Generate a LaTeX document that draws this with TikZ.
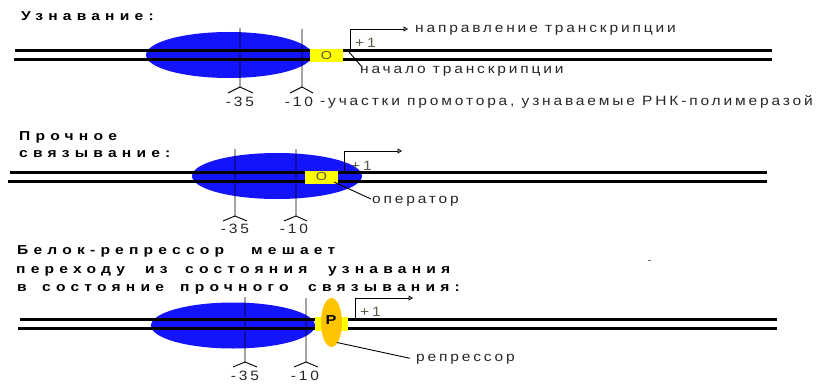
\documentclass[tikz,border=0pt]{standalone}
\usepackage{fontspec}
\setmainfont{Liberation Sans}
\newfontfamily\ttlfont[LetterSpace=40,FakeStretch=1.2]{Liberation Sans}
\newfontfamily\bodyfont[LetterSpace=21,FakeStretch=1.15]{Liberation Sans}
\newfontfamily\boxfont[FakeStretch=1.25]{Liberation Sans}
\usetikzlibrary{arrows.meta}
\definecolor{polblue}{RGB}{20,20,250}
\definecolor{opyellow}{RGB}{255,255,0}
\definecolor{reporange}{RGB}{255,196,0}
\definecolor{plusgray}{RGB}{90,90,70}
\tikzset{
  strand/.style={line width=2.8pt},
  thin/.style={line width=0.9pt},
  ttl/.style={inner sep=0pt, anchor=base west, font=\ttlfont\bfseries\fontsize{13}{16}\selectfont},
  lbl/.style={inner sep=0pt, anchor=base west, font=\bodyfont\fontsize{13.5}{16}\selectfont, text=black!85},
  num/.style={inner sep=0pt, anchor=base, font=\bodyfont\fontsize{13.5}{16}\selectfont, text=black!85},
  plus/.style={inner sep=0pt, anchor=base west, font=\bodyfont\fontsize{13.5}{16}\selectfont, text=plusgray},
  boxtext/.style={inner sep=0pt, font=\boxfont\fontsize{11.5}{13}\selectfont, text=plusgray},
  tssarrow/.style={thin, -{Triangle[open,length=4.5pt,width=5pt]}},
}
\begin{document}
\begin{tikzpicture}[x=1pt,y=-1pt]
\useasboundingbox (0,0) rectangle (834,385);

% ================= Section 1: Узнавание =================
\node[ttl] (t1) at (21,20.5) {Узнавание:};
\fill[polblue] (229,55) ellipse [x radius=83, y radius=23];
\coordinate (s1tl) at (15,50.5);  \coordinate (s1tr) at (772,50.5);
\coordinate (s1bl) at (14,59.5);  \coordinate (s1br) at (772,59.5);
\draw[strand] (s1tl) -- (s1tr);
\draw[strand] (s1bl) -- (s1br);
% -35
\coordinate (a1t) at (240,28); \coordinate (a1j) at (240,87);
\draw[thin] (a1t) -- (a1j) -- (228,93) (a1j) -- (253,93);
% -10
\coordinate (b1t) at (302,29); \coordinate (b1j) at (302,87);
\draw[thin] (b1t) -- (b1j) -- (290,93) (b1j) -- (313,93);
\node[num] (m35a) at (240,106.5) {-35};
\node[num] (m10a) at (299,106.5) {-10};
\node[lbl] (prom) at (320,105.5) {-участки промотора, узнаваемые РНК-полимеразой};
% operator box
\fill[opyellow] (310,49) rectangle (343,62);
\node[boxtext] (o1) at (326.5,55.5) {O};
% transcription start arrow
\coordinate (tss1) at (350,50.5); \coordinate (tss1c) at (350,29); \coordinate (tss1e) at (408,29);
\draw[tssarrow] (tss1) -- (tss1c) -- (tss1e);
\node[lbl] (dir) at (415,32.3) {направление транскрипции};
\node[plus] (p1) at (355,47.5) {+1};
\coordinate (st1a) at (349,52); \coordinate (st1b) at (362,67);
\draw[thin] (st1a) -- (st1b);
\node[lbl] (start) at (360,74) {начало транскрипции};

% ================= Section 2: Прочное связывание =================
\node[ttl] (t2a) at (19,140.7) {Прочное};
\node[ttl] (t2b) at (19,157.3) {связывание:};
\fill[polblue] (277,176) ellipse [x radius=85, y radius=23];
\coordinate (s2tl) at (10,172.5);  \coordinate (s2tr) at (767,172.5);
\coordinate (s2bl) at (8,181.5);   \coordinate (s2br) at (767,181.5);
\draw[strand] (s2tl) -- (s2tr);
\draw[strand] (s2bl) -- (s2br);
\coordinate (a2t) at (235,149); \coordinate (a2j) at (235,216);
\draw[thin] (a2t) -- (a2j) -- (223,221) (a2j) -- (247,221);
\coordinate (b2t) at (296,149); \coordinate (b2j) at (296,216);
\draw[thin] (b2t) -- (b2j) -- (284,221) (b2j) -- (307,221);
\node[num] (m35b) at (235,233.5) {-35};
\node[num] (m10b) at (294,233.5) {-10};
\fill[opyellow] (305,170.5) rectangle (338,184);
\node[boxtext] (o2) at (321.5,177) {O};
\coordinate (tss2) at (344,172.5); \coordinate (tss2c) at (344,151); \coordinate (tss2e) at (402,151);
\draw[tssarrow] (tss2) -- (tss2c) -- (tss2e);
\node[plus] (p2) at (351,170.5) {+1};
\coordinate (op2a) at (334,182); \coordinate (op2b) at (371,199);
\draw[thin] (op2a) -- (op2b);
\node[lbl] (oper) at (372,203.5) {оператор};

% ================= Section 3: Белок-репрессор =================
\node[ttl] (t3a1) at (17,254) {Белок-репрессор};
\node[ttl] (t3a2) at (251,254) {мешает};
\node[ttl] (t3b1) at (16,273.3) {переходу};
\node[ttl] (t3b2) at (145,273.3) {из};
\node[ttl] (t3b3) at (185,273.3) {состояния};
\node[ttl] (t3b4) at (328,273.3) {узнавания};
\node[ttl] (t3c1) at (17,291.7) {в};
\node[ttl] (t3c2) at (42,291.7) {состояние};
\node[ttl] (t3c3) at (180,291.7) {прочного};
\node[ttl] (t3c4) at (308,291.7) {связывания:};
\fill[black!55] (648,259.5) rectangle (650.5,261);
\fill[polblue] (233,325.5) ellipse [x radius=82, y radius=23];
\coordinate (s3tl) at (20,319.5);  \coordinate (s3tr) at (777,319.5);
\coordinate (s3bl) at (18,328.5);  \coordinate (s3br) at (777,328.5);
\draw[strand] (s3tl) -- (s3tr);
\draw[strand] (s3bl) -- (s3br);
\coordinate (a3t) at (245,297); \coordinate (a3j) at (245,362);
\draw[thin] (a3t) -- (a3j) -- (233,367) (a3j) -- (257,367);
\coordinate (b3t) at (306,298); \coordinate (b3j) at (306,362);
\draw[thin] (b3t) -- (b3j) -- (294,367) (b3j) -- (318,367);
\node[num] (m35c) at (245,380) {-35};
\node[num] (m10c) at (305,380) {-10};
\fill[opyellow] (315,317) rectangle (348,331);
\fill[reporange] (331.5,322.5) ellipse [x radius=10.5, y radius=24.5];
\node[inner sep=0pt, font=\boxfont\bfseries\fontsize{13}{16}\selectfont] (P) at (331,320) {P};
\coordinate (tss3) at (355,319.5); \coordinate (tss3c) at (355,298); \coordinate (tss3e) at (413,298);
\draw[tssarrow] (tss3) -- (tss3c) -- (tss3e);
\node[plus] (p3) at (360,316.5) {+1};
\coordinate (rep3a) at (337,342.5); \coordinate (rep3b) at (410,358.3);
\draw[thin] (rep3a) -- (rep3b);
\node[lbl] (rep) at (416,361.5) {репрессор};
\end{tikzpicture}
\end{document}
